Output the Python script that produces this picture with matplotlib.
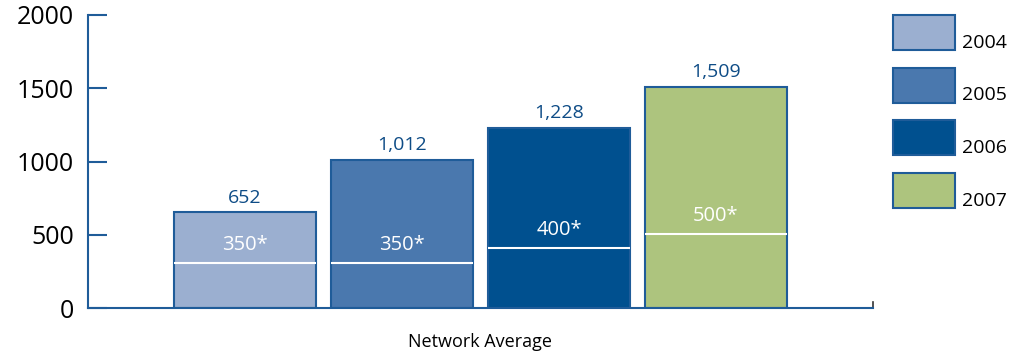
import matplotlib.pyplot as plt
from matplotlib.patches import Rectangle

years = ['2004', '2005', '2006', '2007']
averages = [652, 1012, 1228, 1509]
value_labels = ['652', '1,012', '1,228', '1,509']
target_labels = ['350*', '350*', '400*', '500*']
# white marker lines as drawn in the picture
target_lines = [310, 310, 410, 505]
yticks = [0, 500, 1000, 1500, 2000]

bar_colors = ['#9BAFD0', '#4A78AE', '#00508F', '#ADC47E']
edge = '#1F5C99'
label_blue = '#0E4C86'

plt.rcParams['font.family'] = ['Open Sans', 'DejaVu Sans']

fig = plt.figure(figsize=(10.28, 3.55), dpi=100)
ax = fig.add_axes([88 / 1028, 47 / 355, 785 / 1028, 293 / 355])

xs = list(range(len(years)))
ax.bar(xs, averages, width=0.9, color=bar_colors, edgecolor=edge, linewidth=1.5, zorder=2)

for x, v, lab, t, tl in zip(xs, averages, value_labels, target_lines, target_labels):
    ax.text(x, v + 40, lab, ha='center', va='bottom', fontsize=14, color=label_blue, zorder=4)
    ax.hlines(t, x - 0.45, x + 0.45, color='white', lw=1.5, zorder=3)
    ax.text(x, t + 55, tl, ha='center', va='bottom', fontsize=14.5, color='white', zorder=4)

ax.set_xlim(-1, 4)
ax.set_ylim(0, 2000)
ax.set_yticks(yticks)
ax.set_xticks([])
ax.set_xlabel('Network Average', fontsize=13, labelpad=18)

for s in ['top', 'right']:
    ax.spines[s].set_visible(False)
for s in ['left', 'bottom']:
    ax.spines[s].set_color(edge)
    ax.spines[s].set_linewidth(1.5)
ax.tick_params(axis='y', direction='in', length=14, width=1.5, color=edge,
               labelsize=18, pad=10)
ax.axvline(4, ymin=0, ymax=0.02, color='#333333', lw=1.2, clip_on=False)

# legend drawn as boxes at the right
for i, (yr, c) in enumerate(zip(years, bar_colors)):
    top = 15 + i * 52.5
    fig.add_artist(Rectangle((893 / 1028, 1 - (top + 35) / 355), 62 / 1028, 35 / 355,
                             facecolor=c, edgecolor=edge, linewidth=1.5,
                             transform=fig.transFigure))
    fig.text(962 / 1028, 1 - (top + 28) / 355, yr, fontsize=14, color='black',
             ha='left', va='center')

fig.savefig('out.png', dpi=100)
